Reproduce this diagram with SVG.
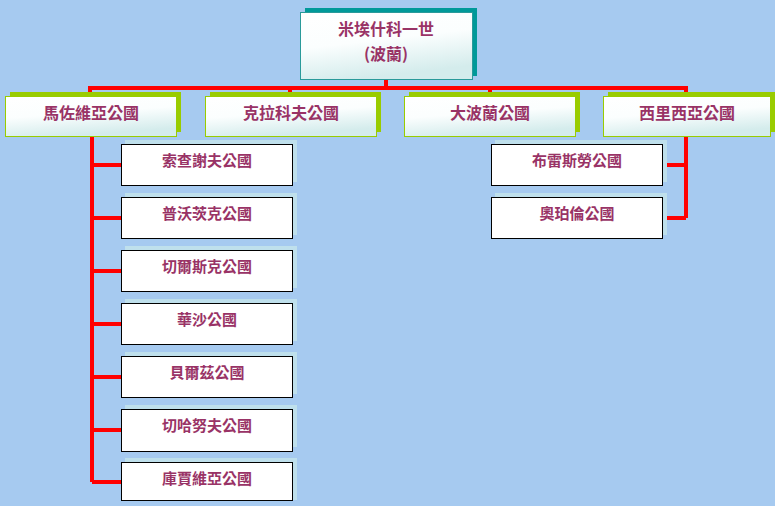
<svg xmlns="http://www.w3.org/2000/svg" width="775" height="506" viewBox="0 0 775 506">
<defs>
<linearGradient id="g" x1="0" y1="0" x2="0.3" y2="1">
<stop offset="0" stop-color="#FFFFFF"/>
<stop offset="0.5" stop-color="#FBFEFE"/>
<stop offset="1" stop-color="#D4ECEC"/>
</linearGradient>
<style>
.t{font-family:"Noto Sans CJK TC","Noto Sans CJK SC",sans-serif;font-weight:bold;fill:#993366;text-anchor:middle}
.t2{font-size:16px}
.t3{font-size:15px}
.lv1s{fill:#009999}
.lv1{fill:url(#g);stroke:#2A9A9A;stroke-width:1}
.lv2s{fill:#99CC00}
.lv2{fill:url(#g);stroke:#99CC00;stroke-width:1}
.lv3s{fill:#BFE0EC}
.lv3{fill:#FFFFFF;stroke:#000000;stroke-width:1}
.c{fill:none;stroke:#FF0000;stroke-width:4}
</style>
</defs>
<rect x="0" y="0" width="775" height="506" fill="#A6CAF0"/>
<g id="connectors">
<path class="c" d="M386,80 V88 M90,96 V88 H686 V96 M290,88 V96 M490,88 V96"/>
<path class="c" d="M92,136 V482 M92,165 H121 M92,218 H121 M92,271 H121 M92,324 H121 M92,377 H121 M92,430 H121 M92,482 H121"/>
<path class="c" d="M686,136 V218 M663,165 H686 M663,218 H686"/>
</g>
<g id="n0">
<rect class="lv1s" x="305" y="8" width="172" height="68"/>
<rect class="lv1" x="300.5" y="12.5" width="172" height="67"/>
<text class="t t2" x="386" y="35">米埃什科一世</text>
<text class="t t2" x="386" y="60">(波蘭)</text>
</g>
<g id="n1">
<rect class="lv2s" x="10" y="92" width="171" height="40"/>
<rect class="lv2" x="5.5" y="96.5" width="171" height="40"/>
<text class="t t2" x="91" y="119">馬佐維亞公國</text>
</g>
<g id="n2">
<rect class="lv2s" x="210" y="92" width="171" height="40"/>
<rect class="lv2" x="205.5" y="96.5" width="171" height="40"/>
<text class="t t2" x="291" y="119">克拉科夫公國</text>
</g>
<g id="n3">
<rect class="lv2s" x="409" y="92" width="171" height="40"/>
<rect class="lv2" x="404.5" y="96.5" width="171" height="40"/>
<text class="t t2" x="490" y="119">大波蘭公國</text>
</g>
<g id="n4">
<rect class="lv2s" x="608" y="92" width="167" height="40"/>
<rect class="lv2" x="603.5" y="96.5" width="167" height="40"/>
<text class="t t2" x="687" y="119">西里西亞公國</text>
</g>
<g id="n5"><rect class="lv3s" x="125" y="140" width="172" height="42"/><rect class="lv3" x="121.5" y="144.5" width="171" height="41"/><text class="t t3" x="207" y="166">索查謝夫公國</text></g>
<g id="n6"><rect class="lv3s" x="125" y="193" width="172" height="42"/><rect class="lv3" x="121.5" y="197.5" width="171" height="41"/><text class="t t3" x="207" y="219">普沃茨克公國</text></g>
<g id="n7"><rect class="lv3s" x="125" y="246" width="172" height="42"/><rect class="lv3" x="121.5" y="250.5" width="171" height="41"/><text class="t t3" x="207" y="272">切爾斯克公國</text></g>
<g id="n8"><rect class="lv3s" x="125" y="299" width="172" height="42"/><rect class="lv3" x="121.5" y="303.5" width="171" height="41"/><text class="t t3" x="207" y="325">華沙公國</text></g>
<g id="n9"><rect class="lv3s" x="125" y="352" width="172" height="42"/><rect class="lv3" x="121.5" y="356.5" width="171" height="41"/><text class="t t3" x="207" y="378">貝爾茲公國</text></g>
<g id="n10"><rect class="lv3s" x="125" y="405" width="172" height="42"/><rect class="lv3" x="121.5" y="409.5" width="171" height="42"/><text class="t t3" x="207" y="431">切哈努夫公國</text></g>
<g id="n11"><rect class="lv3s" x="125" y="458" width="172" height="42"/><rect class="lv3" x="121.5" y="462.5" width="171" height="38"/><text class="t t3" x="207" y="484">庫賈維亞公國</text></g>
<g id="n12"><rect class="lv3s" x="495" y="140" width="172" height="42"/><rect class="lv3" x="491.5" y="144.5" width="171" height="41"/><text class="t t3" x="577" y="166">布雷斯勞公國</text></g>
<g id="n13"><rect class="lv3s" x="495" y="193" width="172" height="42"/><rect class="lv3" x="491.5" y="197.5" width="171" height="41"/><text class="t t3" x="577" y="219">奧珀倫公國</text></g>
</svg>
